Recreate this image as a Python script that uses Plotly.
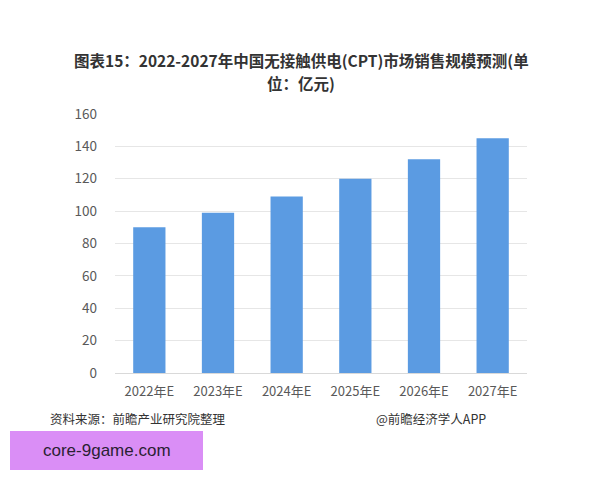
import plotly.graph_objects as go

categories = ["2022年E", "2023年E", "2024年E", "2025年E", "2026年E", "2027年E"]
values = [90, 99, 109, 120, 132, 145]
y_ticks = [0, 20, 40, 60, 80, 100, 120, 140, 160]

title_line1 = "图表15：2022-2027年中国无接触供电(CPT)市场销售规模预测(单"
title_line2 = "位：亿元)"
source_text = "资料来源：前瞻产业研究院整理"
credit_text = "@前瞻经济学人APP"
badge_text = "core-9game.com"

font_family = "Noto Sans CJK SC, Noto Sans, sans-serif"

fig = go.Figure()
fig.add_trace(go.Bar(
    x=categories, y=values,
    marker=dict(color="#5b9be2", line=dict(width=0)),
    width=0.47,
))

pw = 600 - 115 - 73
ph = 480 - 114 - 107
def px(x):
    return (x - 115) / pw
def py(y):
    return (480 - 107 - y) / ph

title_font = dict(size=15.5, color="#333333", family=font_family, weight="bold")
foot_font = dict(size=12.5, color="#333333")

fig.update_layout(
    width=600, height=480,
    paper_bgcolor="white", plot_bgcolor="white",
    margin=dict(l=115, r=73, t=114, b=107),
    showlegend=False,
    font=dict(family=font_family, color="#595959", size=13),
    xaxis=dict(
        showline=True, linecolor="#d9d9d9", linewidth=1,
        ticks="", tickfont=dict(size=13, color="#595959"),
        showgrid=False, ticklabelstandoff=6,
    ),
    yaxis=dict(
        range=[0, 160], tickvals=y_ticks,
        showgrid=True, gridcolor="#e6e6e6", gridwidth=1,
        zeroline=False, showline=False,
        tickfont=dict(size=13.5, color="#595959"),
        ticklabelstandoff=17,
    ),
    annotations=[
        dict(text=title_line1, xref="paper", yref="paper", x=px(301), y=py(60),
             xanchor="center", yanchor="middle", showarrow=False, font=title_font),
        dict(text=title_line2, xref="paper", yref="paper", x=px(301), y=py(83),
             xanchor="center", yanchor="middle", showarrow=False, font=title_font),
        dict(text=source_text, xref="paper", yref="paper", x=px(48), y=py(418),
             xanchor="left", yanchor="middle", showarrow=False, font=foot_font),
        dict(text=credit_text, xref="paper", yref="paper", x=px(488), y=py(418),
             xanchor="right", yanchor="middle", showarrow=False, font=foot_font),
        dict(text=badge_text, xref="paper", yref="paper", x=px(107), y=py(450),
             xanchor="center", yanchor="middle", showarrow=False,
             font=dict(size=17, color="#2a1f33", family="Liberation Sans, Arial, sans-serif")),
    ],
)

fig.add_shape(type="rect", xref="paper", yref="paper",
              x0=px(10), x1=px(203), y0=py(470), y1=py(431),
              fillcolor="#da8ef6", line=dict(width=0), layer="below")

fig.write_html("out.html")
